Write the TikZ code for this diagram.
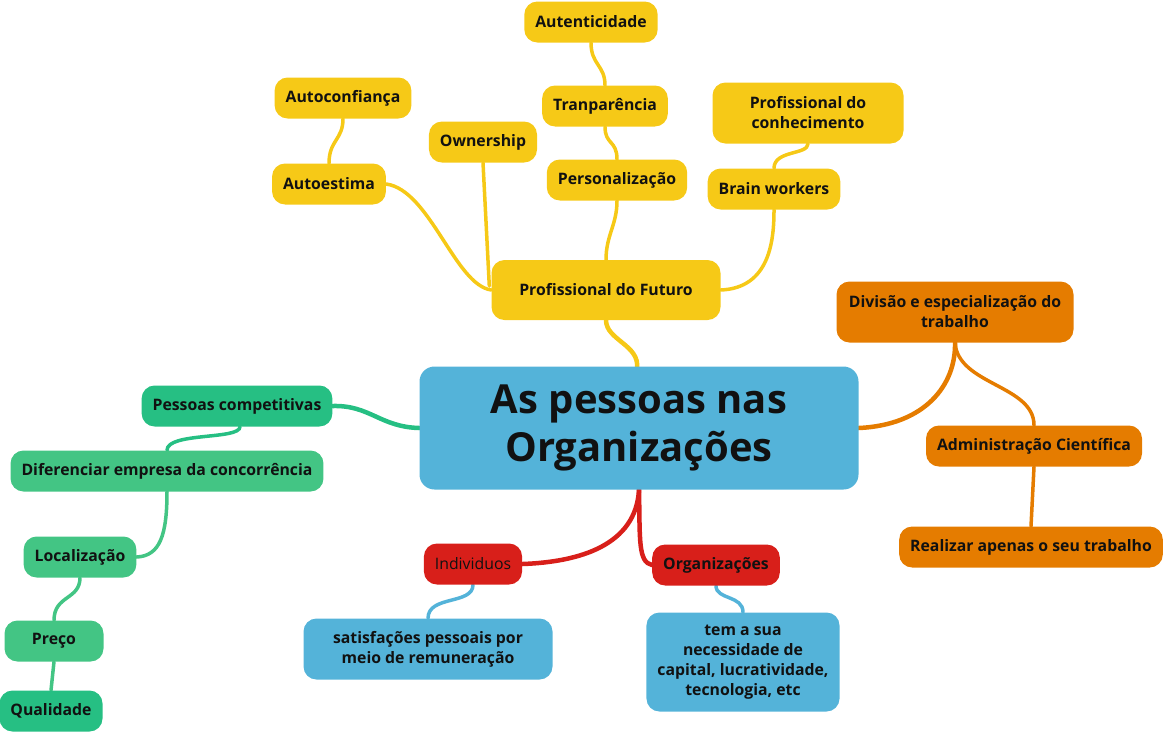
\documentclass[tikz,border=0pt]{standalone}
\usepackage{fontspec}
\setmainfont{Open Sans}
\usetikzlibrary{backgrounds}

\definecolor{futuro}{HTML}{F6C917}
\definecolor{trabalho}{HTML}{E57C00}
\definecolor{centro}{HTML}{54B3D9}
\definecolor{compet}{HTML}{26BF83}
\definecolor{difer}{HTML}{43C584}
\definecolor{indiv}{HTML}{D81F1A}
\definecolor{ink}{HTML}{111111}

\tikzset{
  topic/.style={rounded corners=13pt, minimum height=41pt, inner xsep=11pt,
    align=center, text=ink, font=\bfseries\fontsize{15.8}{20}\selectfont},
  ramo/.style={line width=4.5pt, line cap=round},
  galho/.style={line width=3.5pt, line cap=round}
}

\begin{document}
\begin{tikzpicture}[x=1pt, y=-1pt]
  \useasboundingbox (0,0) rectangle (1166,732);
  % central topic
  \node[topic, fill=centro, minimum width=439pt, minimum height=123pt,
    font=\bfseries\fontsize{40}{48}\selectfont, rounded corners=15pt] (centro) at (639,428) {As pessoas nas\\Organizações};
  % profissional do futuro
  \node[topic, fill=futuro, minimum width=229pt, minimum height=60pt] (futuro) at (606,290) {Profissional do Futuro};
  \node[topic, fill=futuro] (autent) at (591,22) {Autenticidade};
  \node[topic, fill=futuro] (transp) at (605,106) {Tranparência};
  \node[topic, fill=futuro] (person) at (617,180) {Personalização};
  \node[topic, fill=futuro] (owner) at (483,142) {Ownership};
  \node[topic, fill=futuro] (autoconf) at (343,98) {Autoconfiança};
  \node[topic, fill=futuro] (autoest) at (329,184) {Autoestima};
  \node[topic, fill=futuro, minimum width=191pt, minimum height=61pt] (conhec) at (808,113) {Profissional do\\conhecimento};
  \node[topic, fill=futuro] (brain) at (774,189) {Brain workers};
  % divisao do trabalho
  \node[topic, fill=trabalho, minimum width=237pt, minimum height=61pt] (divisao) at (955,312) {Divisão e especialização do\\trabalho};
  \node[topic, fill=trabalho] (adm) at (1034,446) {Administração Científica};
  \node[topic, fill=trabalho] (realizar) at (1031,547) {Realizar apenas o seu trabalho};
  % pessoas competitivas
  \node[topic, fill=compet] (compet) at (237,406) {Pessoas competitivas};
  \node[topic, fill=difer] (difer) at (167,471) {Diferenciar empresa da concorrência};
  \node[topic, fill=difer] (local) at (80,557) {Localização};
  \node[topic, fill=difer, minimum width=99pt] (preco) at (54,641) {Preço};
  \node[topic, fill=compet] (qualid) at (51,711) {Qualidade};
  % individuos e organizacoes
  \node[topic, fill=indiv, font=\fontsize{15.8}{20}\selectfont] (indiv) at (473,564) {Individuos};
  \node[topic, fill=indiv] (orgs) at (716,565) {Organizações};
  \node[topic, fill=centro, minimum width=249pt, minimum height=61pt] (satisf) at (428,649) {satisfações pessoais por\\meio de remuneração};
  \node[topic, fill=centro, minimum width=193pt, minimum height=99pt] (necess) at (743,662) {tem a sua\\necessidade de\\capital, lucratividade,\\tecnologia, etc};

  \begin{pgfonlayer}{background}
    \draw[ramo, futuro] (centro.north) ++(-2,2) .. controls (640,345) and (606,340) .. (futuro.south);
    \draw[galho, futuro] (futuro.west) .. controls (455,285) and (430,190) .. (autoest.east);
    \draw[galho, futuro] (futuro.west) ++(-2,-4) -- (owner.south);
    \draw[galho, futuro] (futuro.north) .. controls (606,235) and (617,225) .. (person.south);
    \draw[galho, futuro] (futuro.east) .. controls (770,288) and (774,240) .. (brain.south);
    \draw[galho, futuro] (brain.north) .. controls (774,150) and (808,155) .. (conhec.south);
    \draw[galho, futuro] (person.north) .. controls (617,140) and (605,145) .. (transp.south);
    \draw[galho, futuro] (transp.north) .. controls (605,65) and (591,65) .. (autent.south);
    \draw[galho, futuro] (autoest.north) .. controls (329,140) and (343,140) .. (autoconf.south);
    \draw[ramo, trabalho] (centro.east) .. controls (925,425) and (956,385) .. (divisao.south);
    \draw[galho, trabalho] (divisao.south) .. controls (958,385) and (1034,385) .. (adm.north);
    \draw[galho, trabalho] (adm.south) -- (realizar.north);
    \draw[ramo, compet] (centro.west) .. controls (380,427) and (370,405) .. (compet.east);
    \draw[galho, compet] (compet.south) ++(3,0) .. controls (240,440) and (167,432) .. (difer.north);
    \draw[galho, difer] (difer.south) .. controls (167,535) and (160,556) .. (local.east);
    \draw[galho, difer] (local.south) .. controls (80,600) and (54,595) .. (preco.north);
    \draw[galho, difer] (preco.south) -- (qualid.north);
    \draw[ramo, indiv] (centro.south) .. controls (636,545) and (580,562) .. (indiv.east);
    \draw[ramo, indiv] (centro.south) .. controls (640,540) and (638,562) .. (orgs.west);
    \draw[galho, centro] (indiv.south) .. controls (473,605) and (428,595) .. (satisf.north);
    \draw[galho, centro] (orgs.south) .. controls (716,600) and (743,595) .. (necess.north);
  \end{pgfonlayer}
\end{tikzpicture}
\end{document}
